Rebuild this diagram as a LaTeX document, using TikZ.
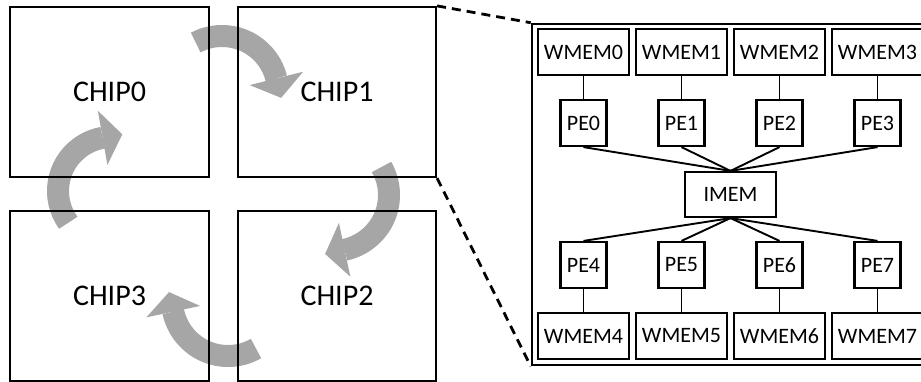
\documentclass[tikz,border=0pt]{standalone}
\usepackage{fontspec}
\setmainfont{Carlito}
\usetikzlibrary{arrows.meta}
\definecolor{ringgray}{HTML}{A6A6A6}
\tikzset{
  chipbox/.style={rectangle, draw=black, line width=2.2pt, minimum width=199pt, minimum height=170pt, inner sep=0pt, font=\fontsize{30}{36}\selectfont},
  coreframe/.style={rectangle, draw=black, line width=2.6pt, minimum width=410pt, minimum height=341pt, inner sep=0pt},
  membox/.style={rectangle, draw=black, line width=2.2pt, minimum width=91pt, minimum height=46pt, inner sep=0pt, font=\fontsize{22}{26}\selectfont},
  pebox/.style={membox, minimum width=46pt},
  link/.style={draw=black, line width=1.9pt},
  zoomline/.style={draw=black, line width=2.8pt, dash pattern=on 9pt off 6pt},
  ringarrow/.style={draw=ringgray, line width=22pt, -{Triangle[width=55pt, length=20pt, line width=0pt]}}
}

\begin{document}
\begin{tikzpicture}[x=1pt, y=1pt]
  \useasboundingbox (0,0) rectangle (921,-381);
  \clip (0,0) rectangle (921,-381);

  % ring of block arrows between the chips
  \coordinate (r01) at (222,-92);
  \coordinate (r12) at (333,-195);
  \coordinate (r23) at (228,-300);
  \coordinate (r30) at (112,-191);
  \draw[ringarrow] (r01) ++(118:56) arc[start angle=118, end angle=14, radius=56] -- ++(-76:20);
  \draw[ringarrow] (r12) ++(30:56) arc[start angle=30, end angle=-78, radius=56] -- ++(-168:20);
  \draw[ringarrow] (r23) ++(-60:56) arc[start angle=-60, end angle=-168, radius=56] -- ++(102:20);
  \draw[ringarrow] (r30) ++(216:54) arc[start angle=216, end angle=100, radius=54] -- ++(10:20);

  \node[chipbox] (chip0) at (109.5,-92) {CHIP0};
  \node[chipbox, minimum width=198pt] (chip1) at (337,-92) {CHIP1};
  \node[chipbox, minimum width=198pt] (chip2) at (337,-296) {CHIP2};
  \node[chipbox] (chip3) at (109.5,-296) {CHIP3};

  % zoomed chip
  \node[coreframe] (core) at (737,-194.5) {};
  \node[membox] (wmem0) at (583.5,-52) {WMEM0};
  \node[membox] (wmem1) at (681.5,-52) {WMEM1};
  \node[membox] (wmem2) at (779.5,-52) {WMEM2};
  \node[membox] (wmem3) at (877.5,-52) {WMEM3};
  \node[pebox] (pe0) at (583.5,-123) {PE0};
  \node[pebox] (pe1) at (681.5,-123) {PE1};
  \node[pebox] (pe2) at (779.5,-123) {PE2};
  \node[pebox] (pe3) at (877.5,-123) {PE3};
  \node[membox, minimum height=45pt] (imem) at (730.5,-194.5) {IMEM};
  \node[pebox] (pe4) at (583.5,-265) {PE4};
  \node[pebox] (pe5) at (681.5,-265) {PE5};
  \node[pebox] (pe6) at (779.5,-265) {PE6};
  \node[pebox] (pe7) at (877.5,-265) {PE7};
  \node[membox] (wmem4) at (583.5,-336) {WMEM4};
  \node[membox] (wmem5) at (681.5,-336) {WMEM5};
  \node[membox] (wmem6) at (779.5,-336) {WMEM6};
  \node[membox] (wmem7) at (877.5,-336) {WMEM7};

  \draw[link] (wmem0) -- (pe0);
  \draw[link] (wmem1) -- (pe1);
  \draw[link] (wmem2) -- (pe2);
  \draw[link] (wmem3) -- (pe3);
  \draw[link] (pe0.south) -- (imem.north);
  \draw[link] (pe1.south) -- (imem.north);
  \draw[link] (pe2.south) -- (imem.north);
  \draw[link] (pe3.south) -- (imem.north);
  \draw[link] (imem.south) -- (pe4.north);
  \draw[link] (imem.south) -- (pe5.north);
  \draw[link] (imem.south) -- (pe6.north);
  \draw[link] (imem.south) -- (pe7.north);
  \draw[link] (pe4) -- (wmem4);
  \draw[link] (pe5) -- (wmem5);
  \draw[link] (pe6) -- (wmem6);
  \draw[link] (pe7) -- (wmem7);

  \draw[zoomline] (chip1.north east) -- (core.north west);
  \draw[zoomline] (chip1.south east) -- (core.south west);
\end{tikzpicture}
\end{document}
